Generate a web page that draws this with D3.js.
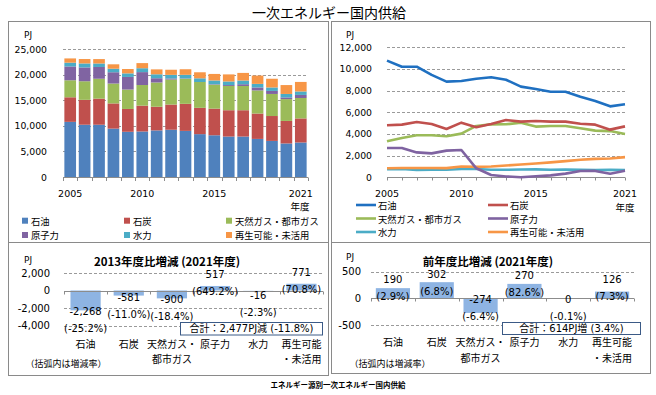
<!DOCTYPE html>
<html><head><meta charset="utf-8">
<script src="https://cdn.jsdelivr.net/npm/d3@7"></script>
<style>body{margin:0;background:#fff} svg{display:block}</style>
</head><body><svg id="c" width="656" height="395"></svg>
<script>
// ---------- data ----------
const years = [2005,2006,2007,2008,2009,2010,2011,2012,2013,2014,2015,2016,2017,2018,2019,2020,2021];
const seriesNames = ["石油","石炭","天然ガス・都市ガス","原子力","水力","再生可能・未活用"];
const oil     = [10770,10210,10210,9450,8830,8890,9100,9230,9008,8370,8150,7900,7900,7440,7050,6550,6740];
const coal    = [4800,4860,5100,4920,4460,5045,4620,4920,5282,5140,5200,5140,5140,4950,4860,4399,4701];
const gas     = [3320,3630,3880,3880,3790,4030,4740,4890,4891,5045,4680,4740,4740,4520,4310,4265,3991];
const nuclear = [2700,2700,2300,2210,2460,2520,830,210,80,0,90,180,340,580,590,327,597];
const hydro   = [740,780,680,690,700,760,770,700,696,720,730,700,720,700,680,681,680];
const renew   = [830,860,860,860,850,1000,960,1000,1089,1180,1280,1380,1490,1620,1700,1734,1860];
const yearLabels = [2005,2010,2015,2021];
const barTicks = [0,5000,10000,15000,20000,25000];
const lineTicks = [0,2000,4000,6000,8000,10000,12000];

const catLines = [["石油"],["石炭"],["天然ガス・","都市ガス"],["原子力"],["水力"],["再生可能","・未活用"]];
const diff2013 = [-2268,-581,-900,517,-16,771];
const pct2013  = [-25.2,-11.0,-18.4,649.2,-2.3,70.8];
const diffPrev = [190,302,-274,270,0,126];
const pctPrev  = [2.9,6.8,-6.4,82.6,-0.1,7.3];
const ticks2013 = [2000,0,-2000,-4000];
const ticksPrev = [500,0,-500];

const mainTitle = "一次エネルギー国内供給";
const title2013 = "2013年度比増減 (2021年度)";
const titlePrev = "前年度比増減 (2021年度)";
const total2013 = "合計：2,477PJ減 (-11.8%)";
const totalPrev = "合計：614PJ増 (3.4%)";
const noteText = "（括弧内は増減率）";
const caption = "エネルギー源別一次エネルギー国内供給";

// ---------- style ----------
const barColors  = ["#4f81bd","#c0504d","#9bbb59","#8064a2","#4bacc6","#f79646"];
const lineColors = ["#1f70c1","#c0504d","#9bbb59","#7f63a1","#4bacc6","#f79646"];
const JP = "'Noto Sans CJK JP', sans-serif";
const NUM = "'DejaVu Sans', 'Noto Sans CJK JP', sans-serif";
const loc = d3.formatLocale({decimal:".",thousands:",",grouping:[3],currency:["",""],minus:"-"});
const fmtC = loc.format(",");
const fmtP = loc.format(".1f");

const svg = d3.select("#c");
svg.append("rect").attr("width",656).attr("height",395).attr("fill","#fff");

function txt(g, x, y, s, size, opts={}) {
  return g.append("text").attr("x",x).attr("y",y).text(s)
    .attr("font-family", opts.family || JP)
    .attr("font-size", size)
    .attr("font-weight", opts.weight || "normal")
    .attr("text-anchor", opts.anchor || "middle")
    .attr("dominant-baseline","central")
    .attr("fill", opts.fill || "#000");
}
function hline(g, x1, x2, y, dashed, color) {
  g.append("line").attr("x1",x1).attr("x2",x2).attr("y1",y).attr("y2",y)
    .attr("stroke", color || (dashed ? "#9a9a9a" : "#8c8c8c"))
    .attr("stroke-width",1)
    .attr("stroke-dasharray", dashed ? "3,2" : null);
}

// title
txt(svg, 329, 12, mainTitle, 14);

// panels
const panels = [[8.5,21.5,320,221],[331.5,21.5,319,221],[8.5,242.5,320,133],[331.5,242.5,319,131]];
panels.forEach(p => svg.append("rect").attr("x",p[0]).attr("y",p[1]).attr("width",p[2]).attr("height",p[3])
  .attr("fill","none").attr("stroke","#8a8a8a").attr("stroke-width",1));

// ---------- top-left stacked bars ----------
{
  const g = svg.append("g");
  const x = d3.scaleBand().domain(years).range([63,308]).paddingInner(0.19).paddingOuter(0.095);
  const y = d3.scaleLinear().domain([0,25000]).range([177,49]);
  const rows = years.map((yr,i)=>({year:yr, s0:oil[i], s1:coal[i], s2:gas[i], s3:nuclear[i], s4:hydro[i], s5:renew[i]}));
  const keys = ["s0","s1","s2","s3","s4","s5"];
  barTicks.slice(1).forEach(v => hline(g, 63, 308, Math.round(y(v))+0.5, true));
  const stack = d3.stack().keys(keys)(rows);
  stack.forEach((layer,k) => {
    g.selectAll(null).data(layer).enter().append("rect")
      .attr("x", d => x(d.data.year)).attr("width", x.bandwidth())
      .attr("y", d => y(d[1])).attr("height", d => y(d[0]) - y(d[1]))
      .attr("fill", barColors[k]);
  });
  hline(g, 63, 308, 177.5, false);
  const step = x.step();
  d3.range(years.length+1).forEach(i => {
    const xx = Math.round(63 + i*step) + 0.5;
    g.append("line").attr("x1",xx).attr("x2",xx).attr("y1",177.5).attr("y2",181).attr("stroke","#8c8c8c");
  });
  barTicks.forEach(v => txt(g, 47, y(v), fmtC(v), 9.3, {family:NUM, anchor:"end"}));
  txt(g, 28, 35, "PJ", 9, {family:NUM});
  yearLabels.forEach(yr => txt(g, x(yr)+x.bandwidth()/2, 193, String(yr), 9.5, {family:NUM}));
  txt(g, 300, 206, "年度", 9.5);
  // legend
  seriesNames.forEach((nm,i) => {
    const col = i % 3, row = Math.floor(i/3);
    const lx = [22,124,226][col], ly = [220.7,235][row];
    g.append("rect").attr("x",lx).attr("y",ly-3).attr("width",6).attr("height",6).attr("fill",barColors[i]);
    txt(g, lx+9, ly, nm, 9.3, {anchor:"start"});
  });
}

// ---------- top-right lines ----------
{
  const g = svg.append("g");
  const x = d3.scalePoint().domain(years).range([387,625]);
  const y = d3.scaleLinear().domain([0,12000]).range([177.3,47.3]);
  lineTicks.slice(1).forEach(v => hline(g, 387, 625, Math.round(y(v))+0.5, true));
  hline(g, 387, 625, 177.5, false);
  years.forEach(yr => {
    const xx = Math.round(x(yr))+0.5;
    g.append("line").attr("x1",xx).attr("x2",xx).attr("y1",177.5).attr("y2",180.5).attr("stroke","#8c8c8c");
  });
  const all = [oil,coal,gas,nuclear,hydro,renew];
  const line = d3.line().x((d,i)=>x(years[i])).y(d=>y(d));
  [4,5,3,2,1,0].forEach(k => {
    g.append("path").datum(all[k]).attr("d", line).attr("fill","none")
      .attr("stroke", lineColors[k]).attr("stroke-width",2.6).attr("stroke-linejoin","round");
  });
  lineTicks.forEach(v => txt(g, 372, y(v), fmtC(v), 9.3, {family:NUM, anchor:"end"}));
  txt(g, 350, 35, "PJ", 9, {family:NUM});
  yearLabels.forEach(yr => txt(g, x(yr), 193, String(yr), 9.5, {family:NUM}));
  txt(g, 625, 207, "年度", 9.5);
  seriesNames.forEach((nm,i) => {
    const col = i % 2, row = Math.floor(i/2);
    const lx = [356,488][col], ly = [205,218.5,232][row];
    g.append("line").attr("x1",lx).attr("x2",lx+20).attr("y1",ly).attr("y2",ly)
      .attr("stroke",lineColors[i]).attr("stroke-width",2.6);
    txt(g, lx+22, ly, nm, 9.3, {anchor:"start"});
  });
}

// ---------- lower change charts ----------
function changeChart(cfg) {
  const g = svg.append("g");
  const x = d3.scaleBand().domain(d3.range(catLines.length)).range(cfg.xr).paddingInner(cfg.pi).paddingOuter(cfg.pi/2);
  const y = d3.scaleLinear().domain(cfg.dom).range(cfg.yr);
  const y0 = y(0);
  cfg.ticks.filter(v => v !== 0).forEach(v => hline(g, cfg.xr[0], cfg.xr[1], Math.round(y(v))+0.5, true));
  g.selectAll(null).data(cfg.vals).enter().append("rect")
    .attr("x",(d,i)=>x(i)).attr("width",x.bandwidth())
    .attr("y", d => y(Math.max(d,0))).attr("height", d => Math.abs(y(d)-y0))
    .attr("fill","#8eb4e3");
  hline(g, cfg.xr[0], cfg.xr[1], Math.round(y0)+0.5, false);
  d3.range(catLines.length+1).forEach(i => {
    const xx = Math.round(cfg.xr[0] + i*x.step()) + 0.5;
    g.append("line").attr("x1",xx).attr("x2",xx).attr("y1",Math.round(y0)+0.5).attr("y2",Math.round(y0)+3.5).attr("stroke","#8c8c8c");
  });
  cfg.ticks.forEach(v => txt(g, cfg.tickX, y(v), fmtC(v), 10, {family:NUM, anchor:"end"}));
  txt(g, cfg.pjX, cfg.pjY, "PJ", 9, {family:NUM});
  txt(g, cfg.titleX, cfg.titleY, cfg.title, 11.5, {weight:"bold"});
  cfg.vals.forEach((v,i) => {
    const cx = x(i) + x.bandwidth()/2;
    const cy = cfg.labelY(v, y);
    txt(g, cx, cy-8.5, fmtC(v), 10, {family:NUM});
    txt(g, cx, cy+8.5, "(" + fmtP(cfg.pcts[i]) + "%)", 10, {family:NUM});
  });
  catLines.forEach((lines,i) => {
    const cx = x(i) + x.bandwidth()/2;
    lines.forEach((s,j) => txt(g, cx, cfg.catY + j*15.5, s, 10));
  });
  txt(g, cfg.noteX, 363.3, noteText, 9);
  const b = cfg.box;
  g.append("rect").attr("x",b[0]).attr("y",b[1]).attr("width",b[2]).attr("height",b[3])
    .attr("fill","#fff").attr("stroke","#3b5a86").attr("stroke-width",1);
  txt(g, b[0]+b[2]/2, b[1]+b[3]/2, cfg.total, 10, {family:NUM});
}

changeChart({
  xr:[64,323], pi:0.3, dom:[-4000,2000], yr:[325.5,273], ticks:ticks2013, vals:diff2013, pcts:pct2013,
  tickX:50, pjX:28, pjY:260, titleX:167, titleY:261, title:title2013, catY:343.3, noteX:66,
  box:[180.5,322.5,142,12.5], total:total2013,
  labelY:(v,y)=> v < 0 ? Math.max(y(v)+10, y(0)+13) : y(v)-3
});
changeChart({
  xr:[371,634], pi:0.22, dom:[-500,500], yr:[325,271.6], ticks:ticksPrev, vals:diffPrev, pcts:pctPrev,
  tickX:361, pjX:350, pjY:257, titleX:488, titleY:261, title:titlePrev, catY:341.7, noteX:390,
  box:[502.5,322.5,138,12], total:totalPrev,
  labelY:(v,y)=> v < 0 || v === 0 ? y(0)+10 : Math.min(y(v)+0.5, y(0)-10.5)
});

// caption
txt(svg, 338, 384, caption, 7.5, {weight:"bold"});
</script></body></html>
